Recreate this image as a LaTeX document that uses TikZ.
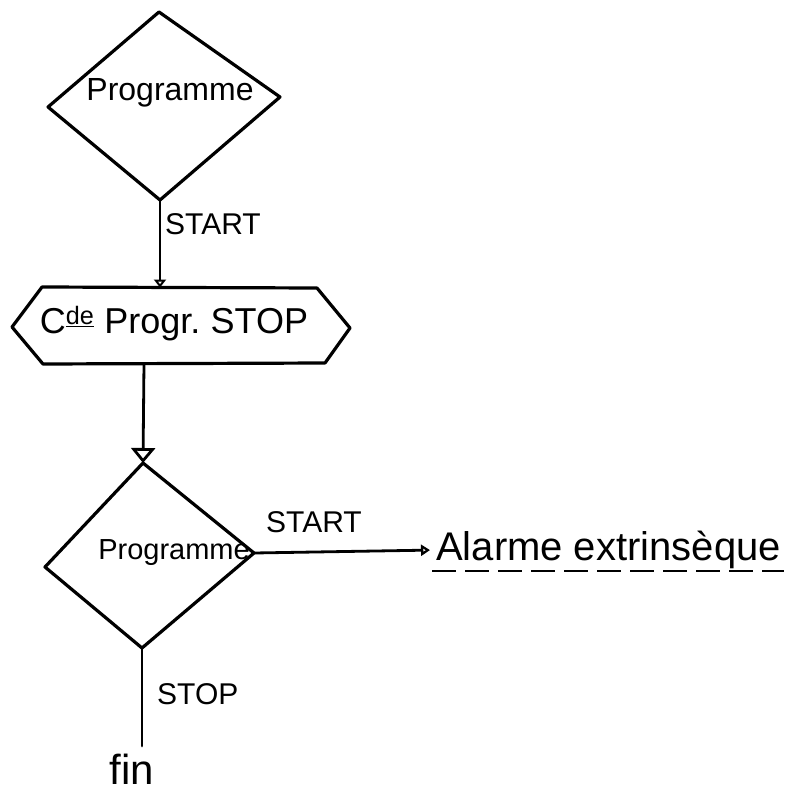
\documentclass[tikz,border=0pt]{standalone}
\usepackage{fontspec}
\setmainfont{Liberation Sans}
\usetikzlibrary{arrows.meta,calc}
\begin{document}
\begin{tikzpicture}[x=1pt,y=-1pt,
  outline/.style={line width=3.2pt,line join=round,line cap=round},
  flow/.style={line width=2.8pt,line cap=round},
  hand/.style={inner sep=0pt,anchor=center},
  lbl/.style={inner sep=0pt,font=\fontsize{30}{32}\selectfont}]
\useasboundingbox (0,0) rectangle (795,797);

% upper decision: Programme
\coordinate (d1t) at (159,12);
\coordinate (d1r) at (280,97);
\coordinate (d1b) at (160,200);
\coordinate (d1l) at (48,107);
\draw[outline] (d1t) -- (d1r) -- (d1b) -- (d1l) -- cycle;
\node[hand,font=\fontsize{32}{34}\selectfont] (d1txt) at (170,93) {Programme};

% command box: Cde Progr. STOP
\coordinate (h1) at (12,327);
\coordinate (h2) at (42,287);
\coordinate (h3) at (317,288);
\coordinate (h4) at (350,328);
\coordinate (h5) at (325,363);
\coordinate (h6) at (43,364);
\coordinate (htop) at (160,287.5);
\coordinate (hbot) at (144,363.5);
\draw[outline] (h1) -- (h2) -- (h3) -- (h4) -- (h5) -- (h6) -- cycle;
\node[hand,font=\fontsize{36}{38}\selectfont] (htxt) at (174,324)
  {C\textsuperscript{\underline{de}} Progr.\hspace{-3pt} STOP};

% lower decision: Programme
\coordinate (d2t) at (143,463);
\coordinate (d2r) at (254,553);
\coordinate (d2b) at (142,648);
\coordinate (d2l) at (45,567);
\draw[outline] (d2t) -- (d2r) -- (d2b) -- (d2l) -- cycle;
\node[hand,font=\fontsize{29}{31}\selectfont] (d2txt) at (174,553) {Programme};

% outcomes
\node[hand,font=\fontsize{40}{42}\selectfont,anchor=west] (alarm) at (436,550)
  {Alarme extrinsèque};
\coordinate (ul1) at (432,571);
\coordinate (ul2) at (784,571);
\draw[line width=2.6pt,dash pattern=on 24pt off 9pt] (ul1) -- (ul2);
\node[hand,font=\fontsize{42}{44}\selectfont] (fin) at (132,769) {fin};
\coordinate (finTop) at (142,746);

% connectors
\draw[flow,-{Triangle[open,length=8pt,width=12pt]}] (d1b) -- (htop);
\draw[flow,-{Triangle[open,length=15pt,width=24pt]}] (hbot) -- (d2t);
\draw[flow,shorten >=6pt,-{Triangle[open,length=9pt,width=11pt]}] (d2r) -- (alarm.west);
\draw[flow] (d2b) -- (finTop);

% connector labels
\node[lbl,anchor=west] (s1) at (165,224) {START};
\node[lbl,anchor=west] (s2) at (266,522) {START};
\node[lbl,anchor=west] (s3) at (157,694) {STOP};
\end{tikzpicture}
\end{document}
